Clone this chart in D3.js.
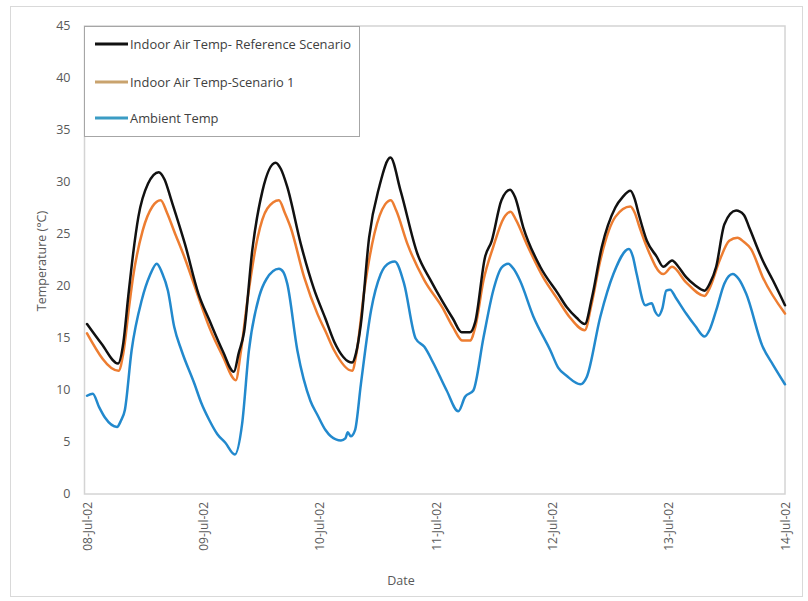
<!DOCTYPE html>
<html>
<head>
<meta charset="utf-8">
<script src="https://cdn.jsdelivr.net/npm/d3@7"></script>
<style>
  html, body { margin: 0; padding: 0; background: #fff; }
  text { font-family: "Open Sans", Lato, sans-serif; }
</style>
</head>
<body>
<svg id="chart" width="808" height="601"></svg>
<script>
// ---- Data (hours since 08-Jul-02 00:00, temperature in °C) ----
const seriesNames = ["Indoor Air Temp- Reference Scenario", "Indoor Air Temp-Scenario 1", "Ambient Temp"];
const seriesColors = ["#111111", "#ed7d31", "#2289cd"];
const legendColors = ["#111111", "#c9a36e", "#3b9cc4"];

const refHours = [0,3,6.4,7.5,8.5,9.5,10.6,12.6,14.8,16,17.4,20.2,23,25.3,28,30.3,31.3,32.4,34.1,36.2,38.9,40,41.3,44.1,46.8,49.2,51,54.7,55.5,56.5,58.2,60.3,62.6,64.7,68.2,70.9,73.3,75.5,77.3,79,80.1,82.1,83.5,85.5,87.3,88.3,90,93.5,97.2,99,101,102.7,104.2,106.2,109,110.5,112.1,113,113.8,115.5,117.5,118.9,120.7,122,123.6,125.5,127.4,128.5,129.8,131.5,133.9,135.5,136.6,139.4,141.5,144];
const refTemps = [16.3,14.4,12.5,14.5,18.9,23.0,26.6,29.8,30.9,30.2,28.2,24.0,19.2,16.6,13.7,11.7,13.5,15.5,23.4,29.1,31.8,31.2,29.5,24.0,19.7,16.8,14.6,12.6,13.5,16.3,24.6,29.5,32.3,29.1,23.0,20.5,18.5,16.8,15.5,15.5,16.5,22.7,24.3,28.2,29.2,28.5,25.6,21.8,19.2,17.9,16.9,16.3,18.9,23.7,27.5,28.5,29.1,28.3,26.9,24.3,22.8,21.8,22.4,21.8,20.8,20.0,19.5,20.2,21.8,25.9,27.2,26.8,25.6,22.4,20.5,18.1];

const s1Hours = [0,6.5,7.5,8.7,9.5,11.5,13.5,15.2,16.5,18,20.2,22.9,25.3,28,30.7,31.7,33.1,35.2,37.2,39.6,40.8,42,44.8,47.6,49.2,51,54.7,55.6,57.2,59.3,61.5,62.7,63.8,66.1,69.6,73.3,75.5,77.5,79,80.1,81.8,83.8,86,87.4,88.5,90.7,94.1,97.2,99.5,102.7,104,105.9,109,112.1,113,114,115.5,118.9,120.7,123.6,127.4,128.5,130.5,132.5,134.2,135.5,137,139.4,144];
const s1Temps = [15.4,11.8,13.5,18.0,20.8,25.3,27.6,28.2,27.0,25.2,22.6,19.0,15.9,13.2,10.9,13.5,18.6,24.6,27.4,28.2,27.0,25.6,20.8,17.2,15.6,13.75,11.8,13.5,19.5,25.0,27.8,28.2,27.2,24.0,20.5,17.9,16.0,14.7,14.7,16.0,20.5,23.7,26.5,27.1,26.3,24.0,20.8,18.6,17.0,15.7,18.0,22.4,26.6,27.6,27.0,25.6,23.7,21.1,21.8,20.3,19.0,19.8,22.4,24.3,24.6,24.2,23.5,20.8,17.3];

const ambHours = [0,1.2,2.5,3.7,6.2,7,7.8,9.2,11.3,13,14.4,15.5,16.7,18,19.5,22.2,23.5,25.3,26.9,28.5,30.5,32,33.4,35.5,37,39.6,40.5,41.3,43.4,46.1,47.6,49.2,50.3,52.4,53.3,53.8,54.4,55.3,56.5,58.6,60.6,62.5,63.5,65.4,67.8,69.6,71.5,74.2,76.6,78,79.7,81.8,83.8,85.5,86.9,88,89.3,92.1,95.6,97.2,99,101.8,103.1,105.9,108.6,111.8,112.6,113.4,115.2,116.5,117.2,117.9,118.7,119.5,120.3,121.5,123.6,125.5,127.4,128.5,129.8,131.5,133.2,134.5,136,139.4,141.5,144];
const ambTemps = [9.4,9.6,8.3,7.3,6.4,7.0,8.0,13.75,18.6,21.0,22.1,21.2,19.5,16.0,13.75,10.5,8.8,7.0,5.7,4.9,3.75,6.7,13.75,18.9,20.6,21.6,21.3,20.2,13.75,8.9,7.5,6.1,5.5,5.1,5.3,5.9,5.5,6.1,10.5,17.6,21.1,22.2,22.3,20.2,14.9,14.1,12.5,9.9,7.9,9.3,9.9,15.0,19.5,21.7,22.1,21.6,20.5,17.0,13.75,12.1,11.3,10.5,11.2,17.0,21.1,23.5,22.8,21.1,18.1,18.3,17.5,17.1,17.8,19.5,19.6,18.8,17.3,16.1,15.1,15.8,17.6,20.2,21.1,20.6,19.2,14.1,12.4,10.5];

const yTicks = [0,5,10,15,20,25,30,35,40,45];
const startDate = new Date(2002, 6, 8);
const endDate = new Date(2002, 6, 14);
const xTickDates = d3.timeDay.range(startDate, d3.timeDay.offset(endDate, 1));

// ---- Layout ----
const svg = d3.select("#chart");
const plot = { left: 84.5, right: 785, top: 26, bottom: 494 };

const x = d3.scaleTime().domain([startDate, endDate]).range([87, 785]);
const y = d3.scaleLinear().domain([0, 45]).range([493.5, 25.5]);

const toDate = h => new Date(startDate.getTime() + h * 3600 * 1000);

// outer chart border
svg.append("rect").attr("x", 10.5).attr("y", 6.5).attr("width", 792).attr("height", 590)
  .attr("fill", "#fff").attr("stroke", "#d9d9d9");

// plot area border
svg.append("rect").attr("x", plot.left).attr("y", plot.top)
  .attr("width", plot.right - plot.left).attr("height", plot.bottom - plot.top)
  .attr("fill", "none").attr("stroke", "#d4d4d4").attr("stroke-width", 1.5);

// y axis
const yAxis = d3.axisLeft(y).tickValues(yTicks).tickSize(0).tickPadding(14);
const gy = svg.append("g").attr("transform", `translate(${plot.left},0)`).call(yAxis);
gy.select(".domain").remove();
gy.selectAll("text").attr("fill", "#595959").style("font-size", "12.5px").style("font-family", "'Open Sans', sans-serif");

// x axis
const xAxis = d3.axisBottom(x).tickValues(xTickDates).tickSize(0).tickFormat(d3.timeFormat("%d-%b-%y"));
const gx = svg.append("g").attr("transform", `translate(0,${plot.bottom})`).call(xAxis);
gx.select(".domain").remove();
gx.selectAll("text")
  .attr("fill", "#595959")
  .style("font-size", "12px").style("font-family", "'Open Sans', sans-serif")
  .attr("text-anchor", "end")
  .attr("transform", "rotate(-90)")
  .attr("x", -8).attr("y", 0).attr("dy", "0.35em");

// axis titles
svg.append("text").attr("x", 401).attr("y", 585).attr("text-anchor", "middle")
  .attr("fill", "#595959").style("font-size", "12.5px").text("Date");
svg.append("text").attr("transform", "translate(46,261) rotate(-90)").attr("text-anchor", "middle")
  .attr("fill", "#595959").style("font-size", "12.5px").text("Temperature (°C)");

// lines
const series = [
  { hours: refHours, temps: refTemps },
  { hours: s1Hours, temps: s1Temps },
  { hours: ambHours, temps: ambTemps }
];
const line = d3.line()
  .x(d => x(d.date))
  .y(d => y(d.v))
  .curve(d3.curveMonotoneX);

// draw in order: ambient, scenario1, reference on top
[2, 1, 0].forEach(i => {
  const s = series[i];
  const pts = s.hours.map((h, j) => ({ date: toDate(h), v: s.temps[j] }));
  svg.append("path").datum(pts)
    .attr("d", line)
    .attr("fill", "none")
    .attr("stroke", seriesColors[i])
    .attr("stroke-width", 2.5)
    .attr("stroke-linejoin", "round")
    .attr("stroke-linecap", "round");
});

// legend
const lg = svg.append("g");
lg.append("rect").attr("x", 84.5).attr("y", 26.5).attr("width", 275).attr("height", 110)
  .attr("fill", "#fff").attr("stroke", "#a6a6a6").attr("stroke-width", 1);
const rowsY = [44, 82, 118];
seriesNames.forEach((name, i) => {
  lg.append("line").attr("x1", 95).attr("x2", 128).attr("y1", rowsY[i]).attr("y2", rowsY[i])
    .attr("stroke", legendColors[i]).attr("stroke-width", 3);
  lg.append("text").attr("x", 130).attr("y", rowsY[i]).attr("dy", "0.35em")
    .attr("fill", "#404040").style("font-size", "12.9px").text(name);
});
</script>
</body>
</html>
